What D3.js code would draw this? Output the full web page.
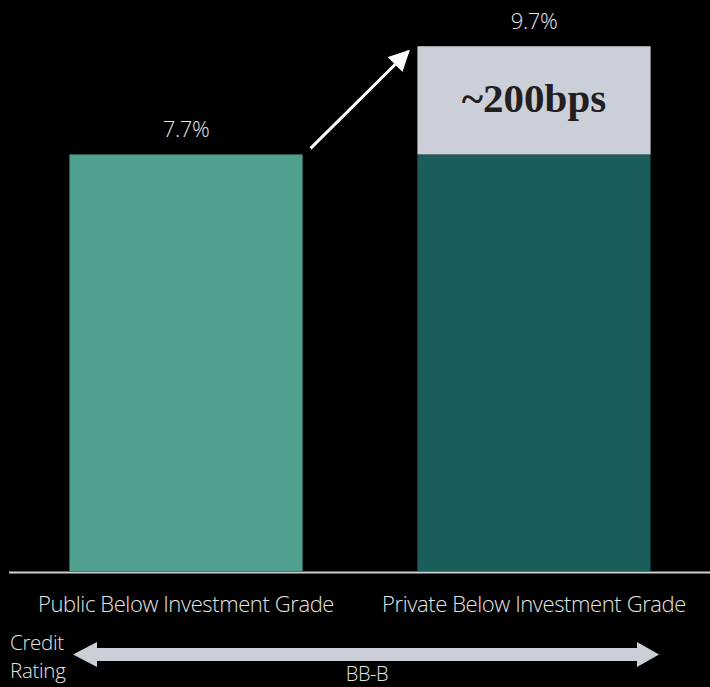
<!DOCTYPE html>
<html><head><meta charset="utf-8">
<script src="https://cdn.jsdelivr.net/npm/d3@7"></script>
<style>
html,body{margin:0;padding:0;background:#000;}
svg{display:block;}
</style></head>
<body>
<svg id="c" width="710" height="687"></svg>
<script>
const categories = ["Public Below Investment Grade", "Private Below Investment Grade"];
const baseValues = [7.7, 7.7];
const totalValues = [7.7, 9.7];
const valueLabels = ["7.7%", "9.7%"];
const premiumLabel = "~200bps";
const ratingLabel = "BB-B";
const ratingTitle = ["Credit", "Rating"];

const svg = d3.select("#c");
const baseY = 571;
const y = d3.scaleLinear().domain([0, 10]).range([baseY, baseY - 541]);
const x = d3.scaleBand().domain(categories).range([12, 708]).paddingInner(0.33).paddingOuter(0.165);

const colors = ["#4fa08e", "#1a5d5b"];
const premiumColor = "#cbcfd8";
const textColor = "#e4e4e4";
const font = "'Open Sans', sans-serif";

// base bars
svg.selectAll("rect.base").data(categories).enter().append("rect")
  .attr("class","base")
  .attr("x", d => x(d)).attr("width", x.bandwidth())
  .attr("y", (d,i) => y(baseValues[i]))
  .attr("height", (d,i) => baseY - y(baseValues[i]))
  .attr("fill", (d,i) => colors[i]);

// premium segment
svg.selectAll("rect.prem").data(categories.filter((d,i) => totalValues[i] > baseValues[i])).enter().append("rect")
  .attr("class","prem")
  .attr("x", d => x(d)).attr("width", x.bandwidth())
  .attr("y", d => y(totalValues[categories.indexOf(d)]))
  .attr("height", d => { const i = categories.indexOf(d); return y(baseValues[i]) - y(totalValues[i]); })
  .attr("fill", premiumColor);

// premium label
{
  const i = 1, d = categories[i];
  svg.append("text")
    .attr("x", x(d) + x.bandwidth()/2)
    .attr("y", (y(totalValues[i]) + y(baseValues[i]))/2 + 12)
    .attr("text-anchor","middle")
    .attr("font-family","'Liberation Serif', 'DejaVu Serif', serif")
    .attr("font-weight","bold")
    .attr("font-size", 41)
    .attr("fill","#231f20")
    .text(premiumLabel);
}

// value labels
svg.selectAll("text.val").data(categories).enter().append("text")
  .attr("class","val")
  .attr("x", d => x(d) + x.bandwidth()/2)
  .attr("y", (d,i) => y(totalValues[i]) - 17)
  .attr("text-anchor","middle")
  .attr("font-family", font).attr("font-weight", 300)
  .attr("font-size", 22).attr("letter-spacing", -0.4).attr("fill", textColor)
  .text((d,i) => valueLabels[i]);

// arrow between bars
const defs = svg.append("defs");
defs.append("marker").attr("id","ah").attr("viewBox","0 0 10 10")
  .attr("refX", 9).attr("refY", 5).attr("markerWidth", 7).attr("markerHeight", 7)
  .attr("markerUnits","strokeWidth").attr("orient","auto")
  .append("path").attr("d","M0,0 L10,5 L0,10 z").attr("fill","#fff");
svg.append("line")
  .attr("x1", x(categories[0]) + x.bandwidth() + 8).attr("y1", y(baseValues[0]) - 6)
  .attr("x2", x(categories[1]) - 9).attr("y2", y(totalValues[1]) + 5)
  .attr("stroke","#fff").attr("stroke-width", 3)
  .attr("marker-end","url(#ah)");

// baseline
svg.append("line").attr("x1", 9).attr("x2", 710).attr("y1", baseY + 1.5).attr("y2", baseY + 1.5)
  .attr("stroke","#d0d0d0").attr("stroke-width", 2);

// category axis labels
const xAxis = d3.axisBottom(x).tickSize(0).tickPadding(0);
const gx = svg.append("g").attr("transform", `translate(0,${baseY + 41})`).call(xAxis);
gx.select(".domain").remove();
gx.selectAll("text").attr("font-family", font).attr("font-weight", 300)
  .attr("font-size", 22).attr("letter-spacing", -0.4).attr("fill", textColor).attr("dy", 0);

// credit rating double arrow
const ax1 = 73, ax2 = 659, ay = 654.5, hb = 24, hh = 12.5, sh = 6.5;
svg.append("path")
  .attr("d", `M${ax1},${ay} L${ax1+hb},${ay-hh} L${ax1+hb},${ay-sh} L${ax2-hb+2},${ay-sh} L${ax2-hb+2},${ay-hh} L${ax2},${ay} L${ax2-hb+2},${ay+hh} L${ax2-hb+2},${ay+sh} L${ax1+hb},${ay+sh} L${ax1+hb},${ay+hh} Z`)
  .attr("fill", premiumColor);

svg.selectAll("text.rt").data(ratingTitle).enter().append("text")
  .attr("class","rt")
  .attr("x", 10).attr("y", (d,i) => 650 + i*28)
  .attr("font-family", font).attr("font-weight", 300)
  .attr("font-size", 20.5).attr("letter-spacing", -0.3).attr("fill", textColor)
  .text(d => d);

svg.append("text").attr("x", 367).attr("y", 681)
  .attr("text-anchor","middle")
  .attr("font-family", font).attr("font-weight", 300)
  .attr("font-size", 20).attr("letter-spacing", -0.4).attr("fill", textColor)
  .text(ratingLabel);
</script>
</body></html>
